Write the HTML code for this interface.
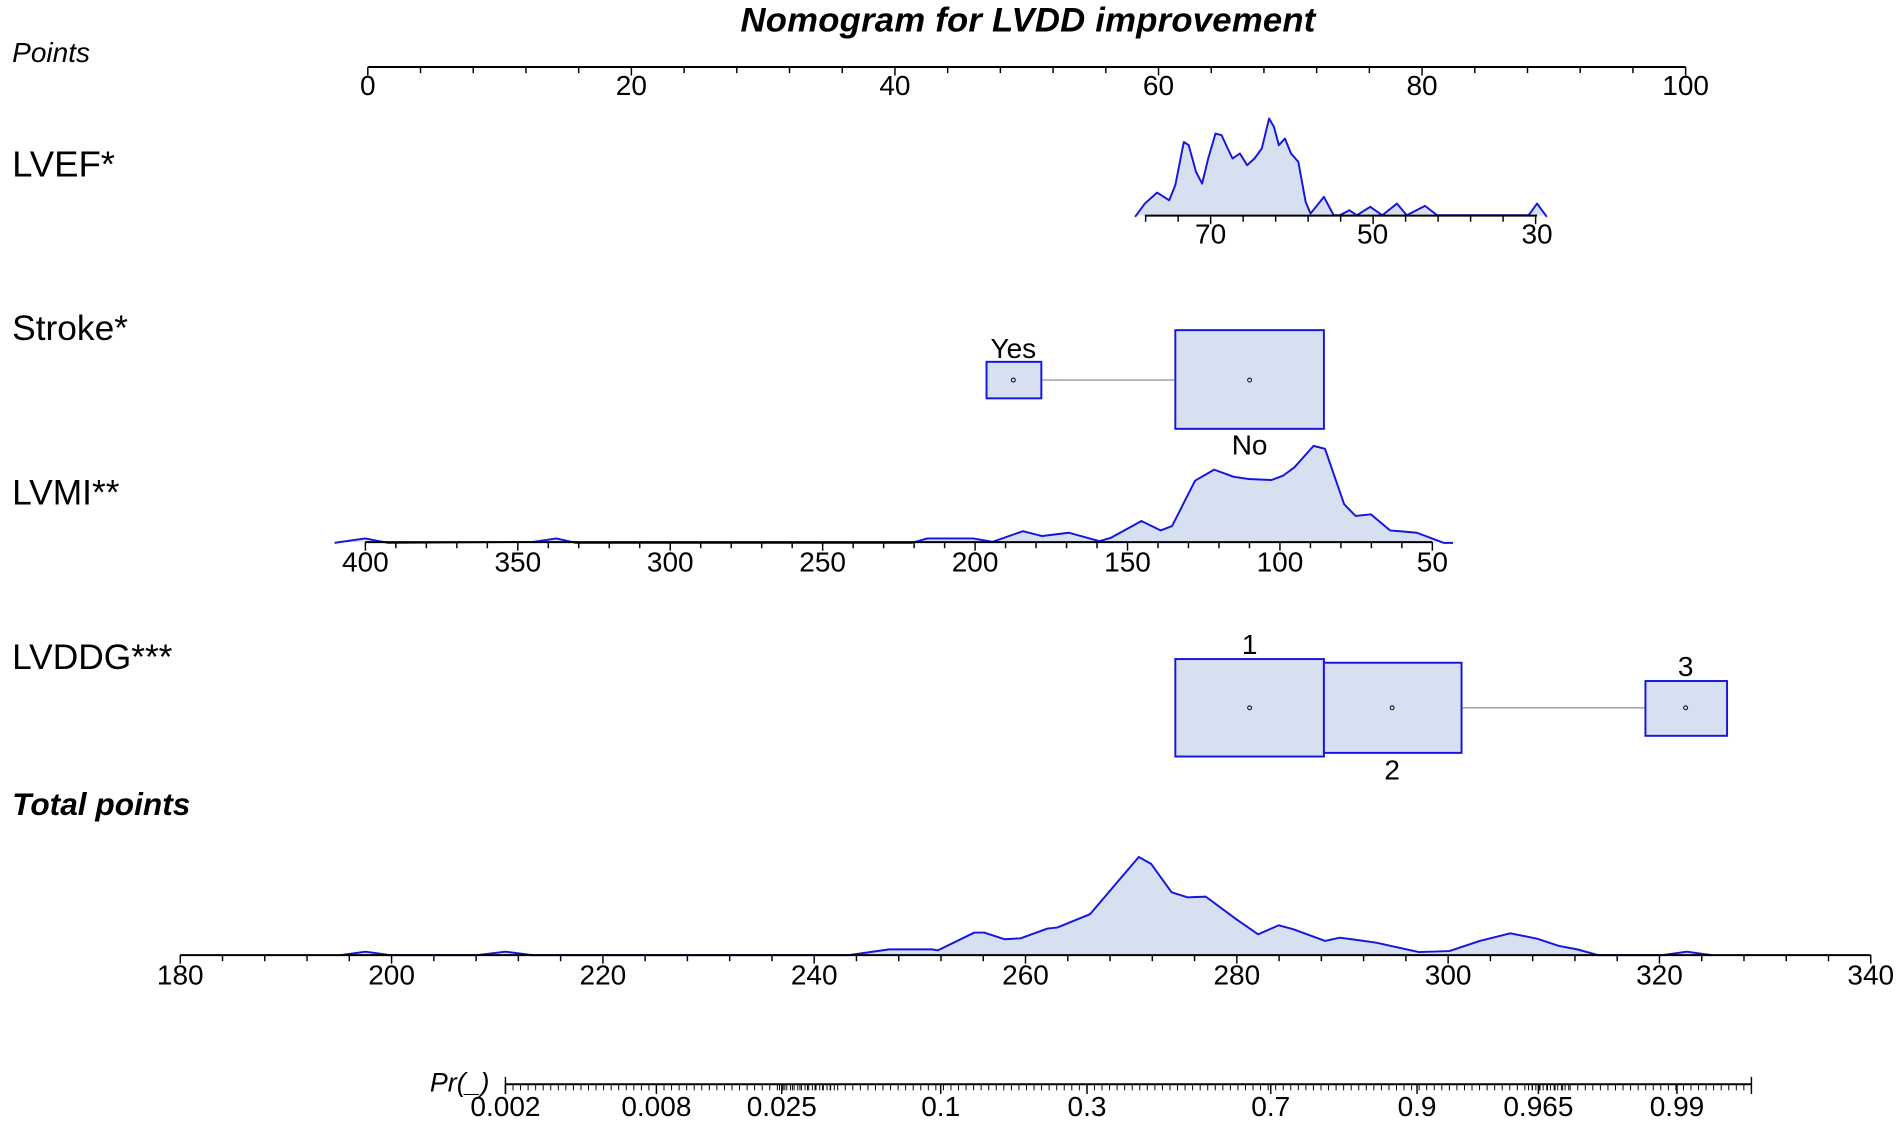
<!DOCTYPE html>
<html><head><meta charset="utf-8"><style>
html,body{margin:0;padding:0;background:#fff;}
svg{display:block;}
text{font-family:"Liberation Sans",Arial,sans-serif;fill:#000;}
</style></head><body>
<svg id="s" width="1900" height="1122" viewBox="0 0 1560 921" preserveAspectRatio="none" xmlns="http://www.w3.org/2000/svg">
<text x="844" y="26" font-size="28.5" font-weight="bold" font-style="italic" text-anchor="middle" textLength="472">Nomogram for LVDD improvement</text>
<text x="10" y="51" font-size="23" font-style="italic">Points</text>
<text x="10" y="145" font-size="30">LVEF*</text>
<text x="10" y="279" font-size="29">Stroke*</text>
<text x="10" y="414" font-size="29">LVMI**</text>
<text x="10" y="549" font-size="29">LVDDG***</text>
<text x="10" y="669" font-size="26" font-weight="bold" font-style="italic">Total points</text>
<text x="353" y="896" font-size="22" font-style="italic">Pr(_)</text>
<g id="g"></g>
</svg>
<script>
const g=document.getElementById('g');let h='';
function L(x1,y1,x2,y2,c,w){h+=`<line x1="${x1}" y1="${y1}" x2="${x2}" y2="${y2}" stroke="${c||'#000'}" stroke-width="${w||1.2}"/>`;}
function T(x,y,t,s){h+=`<text x="${x}" y="${y}" font-size="${s||23}" text-anchor="middle">${t}</text>`;}
function P(pts,close,base){let d='M'+pts.map(p=>p.join(',')).join(' L');h+=`<path d="${d} L${pts[pts.length-1][0]},${base} L${pts[0][0]},${base} Z" fill="#d6e0f0" stroke="none"/>`;h+=`<path d="M${pts.map(p=>p.join(',')).join(' L')}" fill="none" stroke="#1515e0" stroke-width="1.6" stroke-linejoin="round"/>`;}
let lv=[[932,645],[940,605],[950,572],[960,595],[965,550],[972,420],[976,430],[982,510],[987,545],[992,470],[998,395],[1003,400],[1008,440],[1012,470],[1018,455],[1024,490],[1030,470],[1036,440],[1042,350],[1046,375],[1050,430],[1055,410],[1060,455],[1066,480],[1072,600],[1076,635],[1087,585],[1095,640],[1100,640],[1108,625],[1114,640],[1125,615],[1135,640],[1147,605],[1155,640],[1170,612],[1180,640],[1255,640],[1262,605],[1270,645]].map(p=>[p[0],+(p[1]*0.2737+1.5).toFixed(1)]);
P(lv,1,177);
let mi=[[274.7,445.6],[299.8,442],[318.6,445.6],[438,444.8],[456.8,442],[472.5,445.6],[748.8,445.6],[761.4,442],[799,442],[814.8,444.8],[839.9,436],[855.6,440],[877.5,437.3],[902.7,444.2],[912,441.5],[937.2,427.7],[952.9,435.4],[962.3,431.8],[981.2,394.6],[996.9,385.5],[1012.6,391.3],[1025.1,393.2],[1044,394],[1053.4,390.5],[1062.8,383.6],[1078.5,366],[1087.9,368.4],[1103.6,413.9],[1113,423.5],[1125.6,422.2],[1141.3,435.4],[1163.3,437.3],[1185.3,445.6],[1193,445.6]];
P(mi,1,445);
let tp=[[280,507],[300,497],[320,507],[392,507],[415,497],[437,507],[697,507],[730,490],[765,490],[770,493],[800,440],[808,440],[825,460],[838,457],[860,428],[868,425],[895,385],[915,300],[935,215],[945,235],[962,320],[975,335],[990,333],[1015,400],[1033,445],[1050,418],[1062,430],[1088,465],[1100,455],[1110,460],[1130,470],[1165,498],[1190,495],[1215,465],[1240,442],[1262,458],[1280,480],[1295,490],[1312,507],[1365,507],[1385,497],[1405,507]].map(p=>[p[0],+(644.3+p[1]*0.2755).toFixed(1)]);
P(tp,1,784);
L(302,55,1384,55,'#000',1.6);
for(let v=0;v<=100;v+=4){let x=302+v*10.82;L(x,55,x,v%20==0?62:60);}
for(let v=0;v<=100;v+=20)T(302+v*10.82,78,v);
L(940,177,1262,177,'#000',1.6);
for(let v=78;v>=30;v-=2){let x=994+(70-v)*6.67;if((70-v)%4==0)L(x,177,x,(v-30)%20==0?184:182);}
T(994,200,70);T(1127,200,50);T(1262,200,30);
L(300,445,1176,445,'#000',1.6);
for(let v=400;v>=50;v-=10){let x=300+(400-v)*2.503;L(x,445,x,v%50==0?452:450);}
for(let v=400;v>=50;v-=50)T(300+(400-v)*2.503,469,v);
L(855,312,964,312,'#aaa',1.3);
h+=`<rect x="810" y="297" width="45" height="30" fill="#d6e0f0" stroke="#1515e0" stroke-width="1.6"/>`;
h+=`<rect x="965" y="271" width="122" height="81" fill="#d6e0f0" stroke="#1515e0" stroke-width="1.6"/>`;
T(832,294,'Yes');T(1026,373,'No');
L(1200,581,1351,581,'#aaa',1.3);
h+=`<rect x="965" y="541" width="122" height="80" fill="#d6e0f0" stroke="#1515e0" stroke-width="1.6"/>`;
h+=`<rect x="1087" y="544" width="113" height="74" fill="#d6e0f0" stroke="#1515e0" stroke-width="1.6"/>`;
h+=`<rect x="1351" y="559" width="67" height="45" fill="#d6e0f0" stroke="#1515e0" stroke-width="1.6"/>`;
T(1026,537,'1');T(1143,640,'2');T(1384,555,'3');
[[832,312],[1026,312],[1026,581],[1143,581],[1384,581]].forEach(p=>{h+=`<circle cx="${p[0]}" cy="${p[1]}" r="1.6" fill="none" stroke="#000" stroke-width="0.8"/>`;});
L(148,784,1536,784,'#000',1.6);
for(let v=180;v<=340;v+=4){let x=148+(v-180)*8.675;L(x,784,x,v%20==0?791:789);}
for(let v=180;v<=340;v+=20)T(148+(v-180)*8.675,808,v);
const lg=p=>Math.log(p/(1-p));const px=p=>415+(lg(p)-lg(0.002))*89;
L(415,890,1438,890,'#000',1.6);
for(let x=415;x<=1438;x+=6.2)L(x.toFixed(1),890,x.toFixed(1),895,'#000',0.8);
for(let x=640;x<=686;x+=3)L(x,890,x,895,'#000',0.8);
for(let x=1255;x<=1290;x+=3)L(x,890,x,895,'#000',0.8);
[0.002,0.008,0.025,0.1,0.3,0.7,0.9,0.965,0.99].forEach(p=>{let x=px(p);L(x,890,x,898);T(x,916,p);});
L(1438,884,1438,898);L(415,884,415,898);
g.innerHTML=h;
</script>
</body></html>
